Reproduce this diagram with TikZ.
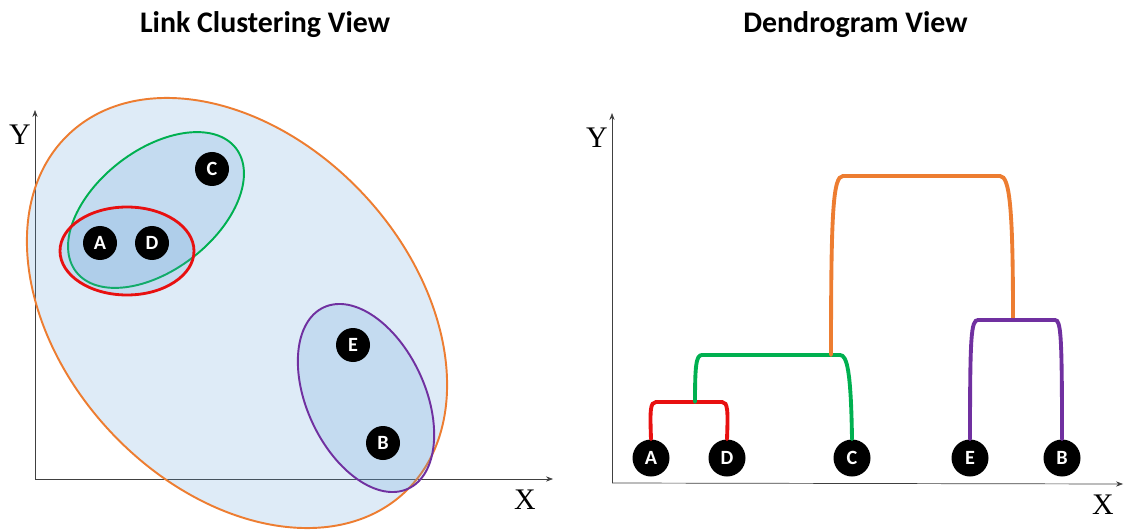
\documentclass[tikz,border=0pt]{standalone}
\usepackage{fontspec}
\setmainfont{Liberation Serif}
\newfontfamily\calfont{Carlito}
\usepackage{tikz}
\usetikzlibrary{positioning,arrows.meta}
\usepackage{xcolor}
\definecolor{linkorange}{HTML}{ED7D31}
\definecolor{linkgreen}{HTML}{00B050}
\definecolor{linkred}{HTML}{E81010}
\definecolor{linkpurple}{HTML}{7030A0}
\definecolor{clusterblue}{HTML}{5B9BD5}

\begin{document}
\begin{tikzpicture}[
    axis/.style={thin, black!75, -{Stealth[length=4pt,width=3pt]}},
    axlabel/.style={font=\fontsize{17}{17}\selectfont},
    viewtitle/.style={anchor=base, font=\calfont\bfseries\fontsize{17}{19}\selectfont},
    point/.style={circle, fill=black, text=white, inner sep=0pt, minimum size=0.68cm,
        font=\calfont\bfseries\fontsize{11.5}{11.5}\selectfont},
    leaf/.style={point, minimum size=0.74cm},
    cluster/.style={line width=1.1pt, fill=clusterblue, fill opacity=0.2},
    link/.style={line width=2.2pt, line cap=round}
]

    \useasboundingbox (0,0) rectangle (22.5,10.62);

    % Titles
    \node[viewtitle] (title1) at (5.30,9.96) {Link Clustering View};
    \node[viewtitle] (title2) at (17.11,9.96) {Dendrogram View};

    % Left panel: axes
    \coordinate (o1) at (0.70,1.04);
    \draw[axis] (o1) -- (0.70,8.42);
    \draw[axis] (o1) -- (11.06,1.04);
    \node[axlabel] (ylab1) at (0.40,7.92) {Y};
    \node[axlabel] (xlab1) at (10.50,0.62) {X};

    % Clusters
    \draw[cluster, draw=linkorange, rotate around={-47:(4.74,4.36)}] (4.74,4.36) ellipse [x radius=4.91, y radius=3.47];
    \draw[cluster, draw=linkgreen, rotate around={37.7:(3.12,6.42)}] (3.12,6.42) ellipse [x radius=2.02, y radius=1.20];
    \draw[cluster, draw=linkred, line width=1.6pt] (2.54,5.60) ellipse [x radius=1.34, y radius=0.88];
    \draw[cluster, draw=linkpurple, rotate around={-65:(7.32,2.66)}] (7.32,2.66) ellipse [x radius=2.00, y radius=1.18];

    % Points
    \node[point] (pA) at (2.00,5.76) {A};
    \node[point] (pD) at (3.04,5.76) {D};
    \node[point] (pC) at (4.24,7.24) {C};
    \node[point] (pE) at (7.06,3.72) {E};
    \node[point] (pB) at (7.66,1.76) {B};

    % Right panel: axes
    \coordinate (o2) at (12.24,0.96);
    \draw[axis] (o2) -- (12.24,8.36);
    \draw[axis] (o2) -- (22.46,0.94);
    \node[axlabel] (ylab2) at (11.94,7.86) {Y};
    \node[axlabel] (xlab2) at (22.06,0.52) {X};

    % Leaves
    \foreach \name/\x in {A/13.02, D/14.54, C/17.04, E/19.40, B/21.24}
        \node[leaf] (lf\name) at (\x,1.46) {\name};

    % Merge points
    \coordinate (mAD) at (13.90,2.58);
    \coordinate (mADC) at (16.62,3.52);
    \coordinate (mEB) at (20.26,4.22);

    % Links
    \draw[link, linkred] (lfA.north) .. controls (13.00,2.40) and (13.00,2.58) .. (13.12,2.58)
        -- (14.44,2.58) .. controls (14.56,2.58) and (14.56,2.40) .. (lfD.north);
    \draw[link, linkgreen] (mAD) .. controls (13.90,3.30) and (13.92,3.52) .. (14.04,3.52)
        -- (16.80,3.52) .. controls (16.94,3.52) and (17.02,3.20) .. (lfC.north);
    \draw[link, linkorange] (mADC) .. controls (16.62,6.40) and (16.66,7.10) .. (16.86,7.10)
        -- (20.00,7.10) .. controls (20.20,7.10) and (20.26,6.40) .. (mEB);
    \draw[link, linkpurple] (lfE.north) .. controls (19.40,3.90) and (19.42,4.22) .. (19.56,4.22)
        -- (21.10,4.22) .. controls (21.22,4.22) and (21.24,3.90) .. (lfB.north);

\end{tikzpicture}
\end{document}
